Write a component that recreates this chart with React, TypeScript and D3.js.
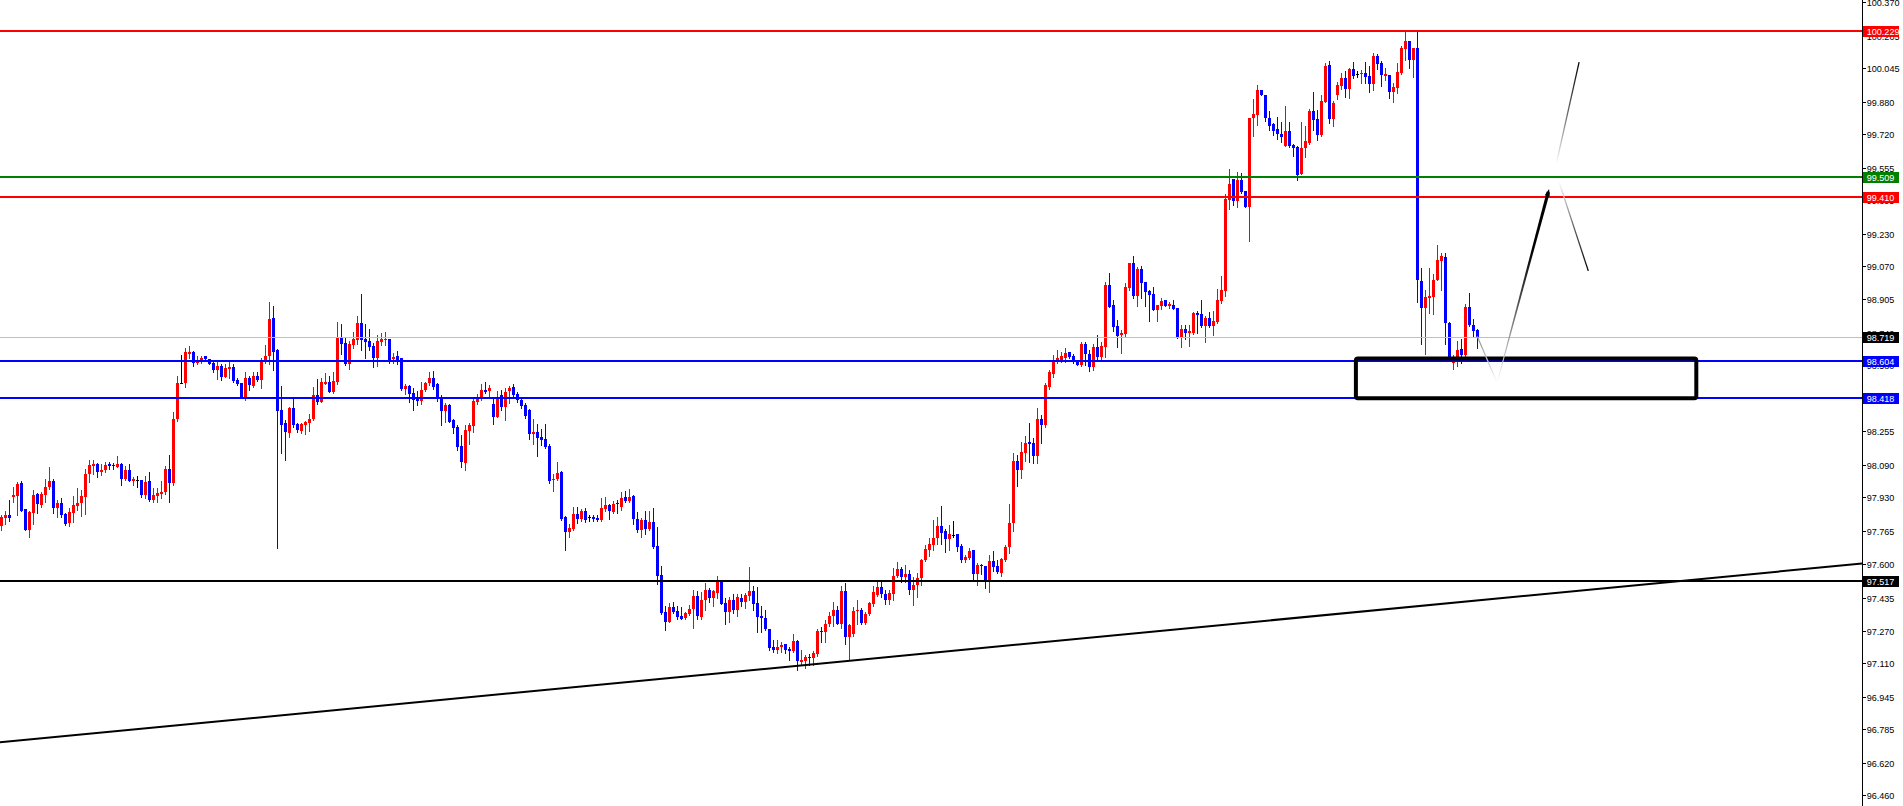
import React from "react";
import * as d3 from "d3";

// ---- Candle data (price values) ----
const opens = [
97.788,97.829,97.842,97.933,97.936,98.000,97.872,97.770,97.852,97.946,
97.892,97.941,97.981,98.010,97.877,97.902,97.847,97.803,97.852,97.887,
97.902,97.931,98.045,98.086,98.096,98.056,98.066,98.096,98.091,98.081,
98.096,98.020,98.064,98.012,98.015,98.015,97.941,98.010,97.917,97.936,
97.946,97.956,98.069,98.000,98.316,98.492,98.492,98.638,98.646,98.592,
98.607,98.627,98.612,98.592,98.557,98.577,98.523,98.562,98.572,98.508,
98.494,98.421,98.518,98.479,98.528,98.508,98.607,98.627,98.814,98.656,
98.360,98.296,98.247,98.370,98.291,98.257,98.286,98.296,98.316,98.434,
98.400,98.489,98.498,98.449,98.498,98.715,98.691,98.587,98.681,98.705,
98.789,98.710,98.700,98.676,98.617,98.696,98.705,98.710,98.612,98.627,
98.617,98.464,98.479,98.444,98.419,98.405,98.459,98.494,98.518,98.489,
98.424,98.355,98.385,98.311,98.276,98.183,98.099,98.257,98.281,98.400,
98.414,98.459,98.454,98.390,98.326,98.434,98.375,98.454,98.474,98.439,
98.410,98.385,98.360,98.242,98.252,98.227,98.217,98.183,98.015,98.020,
98.055,97.832,97.759,97.773,97.847,97.823,97.862,97.832,97.832,97.828,
97.818,97.872,97.892,97.857,97.902,97.882,97.931,97.912,97.936,97.823,
97.769,97.818,97.773,97.808,97.690,97.547,97.364,97.315,97.389,97.369,
97.345,97.335,97.354,97.379,97.443,97.340,97.424,97.473,97.434,97.458,
97.522,97.409,97.364,97.424,97.374,97.434,97.414,97.443,97.468,97.409,
97.345,97.335,97.280,97.192,97.177,97.192,97.207,97.182,97.172,97.221,
97.118,97.123,97.142,97.138,97.157,97.271,97.266,97.305,97.345,97.374,
97.305,97.468,97.241,97.256,97.369,97.374,97.310,97.354,97.404,97.448,
97.488,97.453,97.424,97.453,97.542,97.576,97.537,97.552,97.473,97.498,
97.532,97.621,97.670,97.695,97.729,97.788,97.764,97.724,97.744,97.749,
97.690,97.621,97.631,97.670,97.552,97.596,97.591,97.517,97.616,97.591,
97.557,97.621,97.685,97.803,98.109,98.064,98.148,98.203,98.198,98.134,
98.316,98.286,98.474,98.538,98.607,98.607,98.617,98.646,98.627,98.607,
98.582,98.686,98.636,98.572,98.671,98.622,98.671,98.977,98.878,98.774,
98.730,98.735,98.962,99.085,98.922,99.056,98.991,98.947,98.932,98.853,
98.873,98.903,98.873,98.878,98.863,98.715,98.760,98.740,98.740,98.839,
98.834,98.774,98.814,98.774,98.794,98.898,98.947,99.396,99.499,99.391,
99.494,99.440,99.361,99.800,99.815,99.938,99.914,99.800,99.771,99.746,
99.721,99.662,99.736,99.667,99.657,99.524,99.652,99.677,99.835,99.795,
99.716,99.879,100.061,99.795,99.914,99.958,99.997,99.943,100.042,100.017,
100.017,100.022,100.007,99.968,100.106,100.071,100.007,100.012,99.928,99.948,
100.022,100.140,100.180,100.086,100.145,98.996,98.863,98.913,98.917,99.001,
99.095,99.115,98.789,98.592,98.622,98.661,98.632,98.868,98.779,98.755,
];

const highs = [
97.842,97.864,97.917,97.982,98.005,98.010,97.872,97.864,97.963,97.953,
97.956,98.020,98.081,98.020,97.917,97.926,97.852,97.877,97.936,97.976,
97.966,98.069,98.114,98.114,98.101,98.094,98.104,98.104,98.101,98.134,
98.101,98.084,98.096,98.032,98.035,98.015,98.035,98.055,97.976,97.976,
98.010,98.084,98.138,98.350,98.528,98.631,98.666,98.676,98.651,98.627,
98.627,98.627,98.612,98.602,98.602,98.587,98.587,98.602,98.587,98.518,
98.494,98.548,98.528,98.548,98.548,98.617,98.681,98.893,98.873,98.661,
98.479,98.311,98.375,98.419,98.296,98.296,98.306,98.340,98.474,98.513,
98.518,98.543,98.528,98.548,98.794,98.784,98.715,98.700,98.745,98.824,
98.932,98.784,98.760,98.691,98.730,98.740,98.745,98.710,98.641,98.651,
98.617,98.489,98.484,98.469,98.454,98.498,98.498,98.548,98.553,98.494,
98.434,98.395,98.390,98.316,98.286,98.237,98.286,98.296,98.424,98.439,
98.489,98.498,98.484,98.414,98.454,98.459,98.469,98.479,98.489,98.449,
98.419,98.395,98.365,98.316,98.291,98.267,98.291,98.193,98.045,98.104,
98.060,97.837,97.798,97.882,97.882,97.872,97.877,97.842,97.842,97.842,
97.926,97.931,97.897,97.912,97.917,97.956,97.961,97.971,97.941,97.857,
97.828,97.862,97.862,97.877,97.783,97.591,97.394,97.409,97.414,97.394,
97.389,97.364,97.399,97.473,97.468,97.463,97.507,97.483,97.473,97.542,
97.522,97.434,97.438,97.453,97.453,97.453,97.458,97.586,97.493,97.488,
97.394,97.374,97.280,97.226,97.226,97.217,97.207,97.192,97.256,97.226,
97.177,97.152,97.157,97.172,97.280,97.291,97.325,97.364,97.414,97.394,
97.493,97.507,97.305,97.389,97.424,97.384,97.364,97.414,97.493,97.517,
97.522,97.473,97.473,97.581,97.611,97.586,97.596,97.571,97.537,97.557,
97.626,97.695,97.729,97.818,97.832,97.887,97.774,97.793,97.813,97.749,
97.700,97.645,97.680,97.670,97.606,97.601,97.591,97.645,97.665,97.621,
97.631,97.695,97.897,98.148,98.138,98.203,98.232,98.296,98.222,98.370,
98.336,98.494,98.557,98.631,98.656,98.646,98.666,98.646,98.636,98.607,
98.696,98.696,98.656,98.686,98.730,98.696,98.991,99.036,98.903,98.804,
98.755,98.986,99.085,99.120,99.066,99.070,98.991,98.952,98.967,98.878,
98.913,98.903,98.893,98.903,98.863,98.779,98.779,98.779,98.843,98.848,
98.903,98.824,98.843,98.848,98.957,99.021,99.425,99.549,99.499,99.534,
99.529,99.440,99.800,99.894,99.963,99.938,99.914,99.835,99.776,99.805,
99.780,99.859,99.780,99.672,99.662,99.780,99.761,99.845,99.928,99.840,
99.914,100.071,100.081,99.884,99.978,100.022,100.032,100.047,100.076,100.032,
100.037,100.076,100.057,100.121,100.116,100.081,100.047,100.012,99.973,100.071,
100.155,100.224,100.180,100.145,100.229,99.061,98.952,99.061,99.031,99.174,
99.134,99.134,98.794,98.631,98.700,98.710,98.883,98.937,98.809,98.760,
];

const lows = [
97.769,97.800,97.815,97.904,97.842,97.864,97.770,97.736,97.798,97.854,
97.881,97.907,97.972,97.852,97.832,97.832,97.795,97.788,97.810,97.867,
97.837,97.847,98.005,98.045,98.032,98.037,98.056,98.071,98.071,98.078,
97.992,98.015,98.012,97.992,97.982,97.931,97.928,97.912,97.907,97.904,
97.928,97.948,97.907,97.990,98.306,98.492,98.475,98.617,98.577,98.587,
98.592,98.612,98.587,98.548,98.513,98.508,98.523,98.518,98.498,98.484,
98.421,98.410,98.459,98.474,98.503,98.469,98.592,98.587,98.557,97.677,
98.148,98.114,98.227,98.276,98.252,98.247,98.242,98.257,98.311,98.390,
98.400,98.489,98.449,98.444,98.489,98.636,98.582,98.562,98.666,98.686,
98.656,98.617,98.656,98.572,98.577,98.681,98.681,98.592,98.592,98.587,
98.459,98.439,98.400,98.360,98.385,98.390,98.454,98.484,98.464,98.405,
98.286,98.301,98.301,98.247,98.163,98.079,98.064,98.193,98.252,98.390,
98.410,98.444,98.424,98.291,98.326,98.360,98.311,98.395,98.424,98.400,
98.370,98.321,98.217,98.193,98.134,98.188,98.173,98.000,97.961,98.015,
97.818,97.670,97.734,97.769,97.803,97.813,97.808,97.813,97.813,97.813,
97.813,97.862,97.823,97.852,97.852,97.867,97.907,97.907,97.798,97.759,
97.734,97.749,97.769,97.680,97.502,97.354,97.276,97.315,97.360,97.330,
97.330,97.330,97.350,97.286,97.330,97.330,97.374,97.414,97.394,97.434,
97.404,97.305,97.315,97.360,97.345,97.394,97.384,97.424,97.374,97.266,
97.266,97.276,97.177,97.167,97.162,97.167,97.162,97.128,97.167,97.078,
97.108,97.088,97.103,97.103,97.147,97.217,97.217,97.296,97.296,97.305,
97.286,97.207,97.128,97.246,97.305,97.305,97.305,97.350,97.394,97.443,
97.438,97.404,97.404,97.424,97.537,97.512,97.512,97.453,97.399,97.438,
97.498,97.616,97.641,97.670,97.700,97.700,97.660,97.670,97.734,97.665,
97.611,97.611,97.626,97.522,97.498,97.552,97.483,97.463,97.566,97.557,
97.542,97.616,97.655,97.764,97.986,98.025,98.109,98.104,98.099,98.099,
98.198,98.276,98.464,98.523,98.592,98.597,98.597,98.617,98.592,98.582,
98.577,98.582,98.553,98.557,98.612,98.612,98.622,98.868,98.750,98.671,
98.641,98.725,98.952,98.913,98.873,98.913,98.873,98.799,98.853,98.799,
98.858,98.873,98.863,98.858,98.715,98.671,98.710,98.676,98.735,98.740,
98.769,98.696,98.769,98.730,98.789,98.888,98.922,99.351,99.371,99.361,
99.430,99.361,99.194,99.711,99.766,99.914,99.785,99.741,99.716,99.697,
99.682,99.662,99.657,99.613,99.494,99.524,99.608,99.672,99.741,99.692,
99.711,99.879,99.776,99.761,99.894,99.943,99.904,99.899,99.997,100.002,
99.973,99.973,99.928,99.938,100.042,99.958,99.987,99.899,99.879,99.923,
100.017,100.086,100.047,100.002,98.893,98.686,98.636,98.838,98.834,99.001,
98.952,98.686,98.622,98.562,98.577,98.592,98.627,98.774,98.720,98.666,
];

const closes = [
97.832,97.842,97.829,97.941,97.995,97.864,97.770,97.857,97.941,97.894,
97.946,97.981,98.010,97.877,97.902,97.842,97.800,97.857,97.892,97.902,
97.936,98.045,98.089,98.096,98.055,98.066,98.089,98.086,98.083,98.096,
98.020,98.064,98.012,98.020,98.015,97.941,98.005,97.917,97.941,97.951,
97.956,98.069,98.000,98.316,98.492,98.492,98.646,98.646,98.592,98.607,
98.617,98.612,98.587,98.557,98.577,98.523,98.567,98.572,98.503,98.489,
98.421,98.518,98.484,98.528,98.508,98.607,98.627,98.809,98.646,98.355,
98.286,98.252,98.370,98.286,98.262,98.291,98.301,98.316,98.434,98.400,
98.498,98.498,98.449,98.503,98.715,98.686,98.587,98.686,98.710,98.789,
98.705,98.696,98.671,98.617,98.700,98.710,98.710,98.602,98.622,98.607,
98.464,98.479,98.439,98.410,98.405,98.459,98.494,98.518,98.474,98.419,
98.355,98.385,98.301,98.272,98.178,98.104,98.262,98.286,98.405,98.414,
98.459,98.449,98.469,98.326,98.419,98.375,98.449,98.469,98.434,98.410,
98.380,98.331,98.242,98.252,98.222,98.212,98.178,98.010,98.020,98.050,
97.823,97.759,97.778,97.847,97.823,97.862,97.818,97.832,97.823,97.818,
97.877,97.892,97.862,97.897,97.897,97.926,97.912,97.931,97.823,97.769,
97.818,97.773,97.808,97.685,97.542,97.359,97.315,97.389,97.364,97.340,
97.330,97.359,97.379,97.443,97.345,97.424,97.473,97.434,97.468,97.522,
97.404,97.364,97.424,97.374,97.438,97.414,97.448,97.468,97.404,97.340,
97.335,97.280,97.187,97.177,97.192,97.202,97.177,97.172,97.221,97.123,
97.128,97.142,97.138,97.162,97.271,97.266,97.305,97.345,97.374,97.305,
97.468,97.241,97.300,97.369,97.374,97.310,97.354,97.409,97.463,97.488,
97.453,97.424,97.458,97.542,97.576,97.537,97.552,97.473,97.498,97.532,
97.621,97.675,97.700,97.729,97.788,97.754,97.724,97.749,97.744,97.685,
97.621,97.636,97.665,97.552,97.596,97.591,97.517,97.616,97.586,97.562,
97.626,97.685,97.803,98.109,98.064,98.153,98.198,98.193,98.134,98.316,
98.286,98.484,98.548,98.607,98.617,98.627,98.641,98.622,98.602,98.582,
98.686,98.636,98.572,98.671,98.622,98.676,98.977,98.868,98.769,98.725,
98.740,98.967,99.085,98.922,99.056,98.986,98.942,98.927,98.853,98.878,
98.898,98.873,98.883,98.858,98.715,98.760,98.740,98.750,98.839,98.829,
98.774,98.814,98.774,98.799,98.903,98.952,99.401,99.475,99.391,99.494,
99.435,99.361,99.800,99.820,99.938,99.914,99.800,99.761,99.736,99.721,
99.706,99.736,99.662,99.652,99.519,99.652,99.687,99.835,99.790,99.716,
99.884,100.057,99.795,99.874,99.963,99.997,99.943,100.042,100.007,100.017,
100.022,100.002,99.968,100.106,100.066,100.012,100.017,99.928,99.953,100.027,
100.145,100.180,100.086,100.145,99.001,98.863,98.917,98.922,99.001,99.100,
99.120,98.789,98.622,98.607,98.656,98.632,98.868,98.779,98.750,98.720,
];

// ---- Axis tick labels ----
const tickLabels = [
  "100.370","100.205","100.045","99.880","99.720","99.555","99.395","99.230",
  "99.070","98.905","98.740","98.580","98.415","98.255","98.090","97.930",
  "97.765","97.600","97.435","97.270","97.110","96.945","96.785","96.620","96.460",
];

// ---- Horizontal levels ----
const levelValues = [100.229, 99.509, 99.410, 98.719, 98.604, 98.418, 97.517];
const levelLabels = ["100.229", "99.509", "99.410", "98.719", "98.604", "98.418", "97.517"];
const levelColors = ["#ff0000", "#008000", "#ff0000", "#c0c0c0", "#0000ff", "#0000ff", "#000000"];
const levelBoxColors = ["#ff0000", "#008000", "#ff0000", "#000000", "#0000ff", "#0000ff", "#000000"];
const levelWidths = [2, 2, 2, 1, 2, 2, 2];

// ---- Trendline (bar index, price) ----
const trendIdx = [0, 460];
const trendPrice = [96.722, 97.593];

// ---- Zone rectangle (bar index, price) ----
const zoneIdx = [338.6, 423.7];
const zonePrice = [98.614, 98.418];

// ---- Projection arrows (bar index, price) ----
const pathAIdx = [368.9, 373.9];
const pathAPrice = [98.725, 98.494];
const pathBIdx = [373.9, 386.7];
const pathBPrice = [98.494, 99.435];
const pathCIdx = [388.7, 394.4];
const pathCPrice = [99.575, 100.076];
const pathDIdx = [389.3, 396.7];
const pathDPrice = [99.49, 99.046];

const W = 1903;
const H = 806;
const AXIS_X = 1862;

// width of an axis label in px (Tahoma-like metrics)
const labelLen = (s: string) =>
  s.split("").reduce((acc, ch) => acc + (ch === "." ? 2.1 : 5.12), 0);

export default function App() {
  const y = d3.scaleLinear().domain([96.407, 100.382]).range([H, 0]);
  const x = d3.scaleLinear().domain([0, 1]).range([1.5, 5.5]);
  const idxAtAxis = x.invert(AXIS_X);
  const idxAtLeft = x.invert(0);

  const candles = closes.map((c, i) => {
    const o = opens[i];
    const h = highs[i];
    const l = lows[i];
    const cx = x(i);
    const color = c > o ? "#ff0000" : c < o ? "#0000ff" : "#000000";
    const top = Math.round(y(Math.max(o, c)));
    const bot = Math.round(y(Math.min(o, c)));
    const hy = Math.round(y(h));
    const ly = Math.round(y(l));
    return (
      <g key={i} fill={color}>
        <rect x={cx - 0.5} y={hy} width={1} height={Math.max(1, ly - hy + 1)} />
        <rect x={cx - 1.5} y={top} width={3} height={Math.max(1, bot - top)} />
      </g>
    );
  });

  const trendAt = (idx: number) =>
    trendPrice[0] + ((trendPrice[1] - trendPrice[0]) * (idx - trendIdx[0])) / (trendIdx[1] - trendIdx[0]);

  const pt = (idxs: number[], prices: number[], k: number) => [x(idxs[k]), y(prices[k])];

  const [ax1, ay1] = pt(pathAIdx, pathAPrice, 0);
  const [ax2, ay2] = pt(pathAIdx, pathAPrice, 1);
  const [bx1, by1] = pt(pathBIdx, pathBPrice, 0);
  const [bx2, by2] = pt(pathBIdx, pathBPrice, 1);
  const [cx1, cy1] = pt(pathCIdx, pathCPrice, 0);
  const [cx2, cy2] = pt(pathCIdx, pathCPrice, 1);
  const [dx1, dy1] = pt(pathDIdx, pathDPrice, 0);
  const [dx2, dy2] = pt(pathDIdx, pathDPrice, 1);

  // tapered polygon for thick arrow
  const len = Math.hypot(bx2 - bx1, by2 - by1);
  const nx = -(by2 - by1) / len;
  const ny = (bx2 - bx1) / len;
  const w1 = 0.35;
  const w2 = 1.6;
  const taper = [
    [bx1 + nx * w1, by1 + ny * w1],
    [bx2 + nx * w2, by2 + ny * w2],
    [bx2 - nx * w2, by2 - ny * w2],
    [bx1 - nx * w1, by1 - ny * w1],
  ]
    .map((p) => p.join(","))
    .join(" ");
  const ux = (bx2 - bx1) / len;
  const uy = (by2 - by1) / len;
  const head = [
    [bx2 + ux * 3, by2 + uy * 3],
    [bx2 - ux * 4 + nx * 2.6, by2 - uy * 4 + ny * 2.6],
    [bx2 - ux * 4 - nx * 2.6, by2 - uy * 4 - ny * 2.6],
  ]
    .map((p) => p.join(","))
    .join(" ");

  const font = "'Liberation Sans', Arial, sans-serif";
  const fs = 9.9;
  const textX = AXIS_X + 4.7;

  return (
    <svg
      width={W}
      height={H}
      viewBox={`0 0 ${W} ${H}`}
      style={{ position: "absolute", left: 0, top: 0, background: "#ffffff", display: "block" }}
    >
      <defs>
        <linearGradient id="gA" gradientUnits="userSpaceOnUse" x1={ax1} y1={ay1} x2={ax2} y2={ay2}>
          <stop offset="0" stopColor="#8a8a8a" />
          <stop offset="1" stopColor="#ffffff" />
        </linearGradient>
        <linearGradient id="gB" gradientUnits="userSpaceOnUse" x1={bx1} y1={by1} x2={bx2} y2={by2}>
          <stop offset="0" stopColor="#ffffff" />
          <stop offset="0.45" stopColor="#444444" />
          <stop offset="0.7" stopColor="#000000" />
          <stop offset="1" stopColor="#000000" />
        </linearGradient>
        <linearGradient id="gC" gradientUnits="userSpaceOnUse" x1={cx1} y1={cy1} x2={cx2} y2={cy2}>
          <stop offset="0" stopColor="#ffffff" />
          <stop offset="0.5" stopColor="#666666" />
          <stop offset="1" stopColor="#000000" />
        </linearGradient>
        <linearGradient id="gD" gradientUnits="userSpaceOnUse" x1={dx1} y1={dy1} x2={dx2} y2={dy2}>
          <stop offset="0" stopColor="#ffffff" />
          <stop offset="0.5" stopColor="#666666" />
          <stop offset="1" stopColor="#000000" />
        </linearGradient>
      </defs>
      <rect x={0} y={0} width={W} height={H} fill="#ffffff" />

      {/* candles */}
      <g shapeRendering="crispEdges">{candles}</g>

      {/* horizontal levels */}
      <g shapeRendering="crispEdges">
        {levelValues.map((v, i) => {
          const yy = Math.round(y(v));
          const lw = levelWidths[i];
          return (
            <rect key={i} x={0} y={yy - Math.floor(lw / 2)} width={AXIS_X} height={lw} fill={levelColors[i]} />
          );
        })}
      </g>

      {/* trendline */}
      <line
        x1={0}
        y1={y(trendAt(idxAtLeft))}
        x2={AXIS_X}
        y2={y(trendAt(idxAtAxis))}
        stroke="#000000"
        strokeWidth={2}
      />

      {/* zone rectangle */}
      <rect
        x={x(zoneIdx[0])}
        y={y(zonePrice[0])}
        width={x(zoneIdx[1]) - x(zoneIdx[0])}
        height={y(zonePrice[1]) - y(zonePrice[0])}
        fill="none"
        stroke="#000000"
        strokeWidth={4}
        rx={2}
      />

      {/* projection arrows */}
      <line x1={ax1} y1={ay1} x2={ax2} y2={ay2} stroke="url(#gA)" strokeWidth={1.2} />
      <polygon points={taper} fill="url(#gB)" />
      <polygon points={head} fill="#000000" />
      <line x1={cx1} y1={cy1} x2={cx2} y2={cy2} stroke="url(#gC)" strokeWidth={1.3} />
      <line x1={dx1} y1={dy1} x2={dx2} y2={dy2} stroke="url(#gD)" strokeWidth={1.3} />

      {/* price axis */}
      <g shapeRendering="crispEdges">
        <rect x={AXIS_X} y={0} width={1} height={H} fill="#000000" />
        {tickLabels.map((t) => {
          const yy = Math.round(y(+t));
          return <rect key={t} x={AXIS_X + 1} y={yy} width={3} height={1} fill="#000000" />;
        })}
      </g>
      <g fontFamily={font} fontSize={fs} fill="#000000">
        {tickLabels.map((t) => (
          <text
            key={t}
            x={textX}
            y={Math.round(y(+t)) + 0.5}
            dominantBaseline="central"
            textLength={labelLen(t)}
            lengthAdjust="spacingAndGlyphs"
          >
            {t}
          </text>
        ))}
      </g>
      <g fontFamily={font} fontSize={fs}>
        {levelValues.map((v, i) => {
          const yy = Math.round(y(v));
          return (
            <g key={i}>
              <rect x={AXIS_X + 1} y={yy - 5} width={36} height={11} fill={levelBoxColors[i]} shapeRendering="crispEdges" />
              <text
                x={textX}
                y={yy + 0.5}
                dominantBaseline="central"
                fill="#ffffff"
                textLength={labelLen(levelLabels[i])}
                lengthAdjust="spacingAndGlyphs"
              >
                {levelLabels[i]}
              </text>
            </g>
          );
        })}
      </g>
    </svg>
  );
}
